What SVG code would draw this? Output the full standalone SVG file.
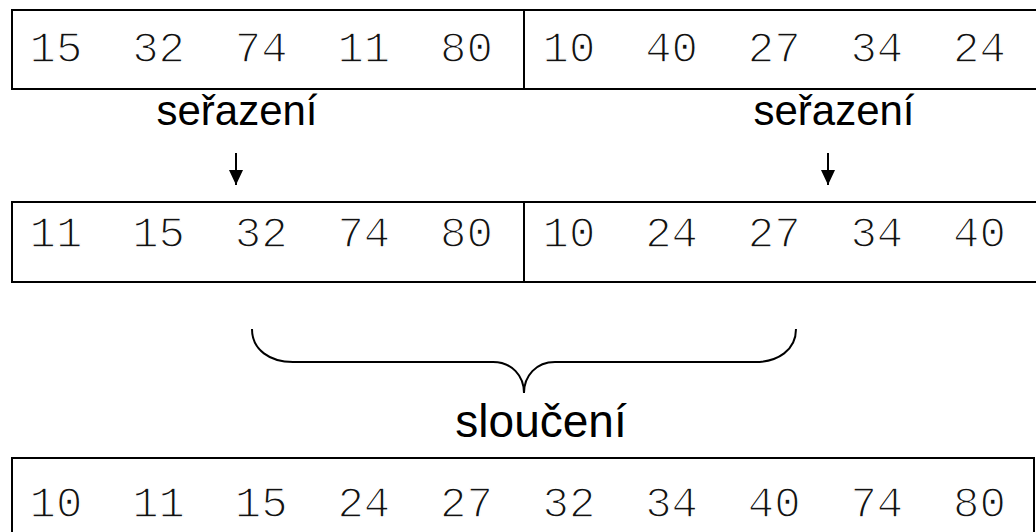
<svg xmlns="http://www.w3.org/2000/svg" width="1036" height="532" viewBox="0 0 1036 532">
<style>
.box{fill:#fff;stroke:#000;stroke-width:2}
.num{font-family:"Liberation Mono","Courier New",monospace;font-size:44px;fill:#111;stroke:#fff;stroke-width:1.4;text-anchor:middle}
.lbl{font-family:"Liberation Sans",Arial,sans-serif;font-size:42px;fill:#000;text-anchor:middle}
.con{fill:none;stroke:#000;stroke-width:2}
</style>
<defs>
<marker id="ah" markerWidth="16" markerHeight="14" refX="15" refY="7" orient="auto" markerUnits="userSpaceOnUse" viewBox="0 0 16 14">
<path d="M0,0 L15,7 L0,14 Z" fill="#000"/>
</marker>
</defs>
<rect width="1036" height="532" fill="#fff"/>
<g id="row1-left">
<rect class="box" x="12" y="10" width="512" height="79"/>
<text class="num" y="62"><tspan x="56">15</tspan><tspan x="158.6">32</tspan><tspan x="261.2">74</tspan><tspan x="363.8">11</tspan><tspan x="466.4">80</tspan></text>
</g>
<g id="row1-right">
<rect class="box" x="524" y="10" width="520" height="79"/>
<text class="num" y="62"><tspan x="569">10</tspan><tspan x="671.6">40</tspan><tspan x="774.2">27</tspan><tspan x="876.8">34</tspan><tspan x="979.4">24</tspan></text>
</g>
<g id="label-sort-left"><text class="lbl" x="237" y="125">seřazení</text></g>
<g id="label-sort-right"><text class="lbl" x="834" y="125">seřazení</text></g>
<g id="row2-left">
<rect class="box" x="12" y="202" width="512" height="80"/>
<text class="num" y="247"><tspan x="56">11</tspan><tspan x="158.6">15</tspan><tspan x="261.2">32</tspan><tspan x="363.8">74</tspan><tspan x="466.4">80</tspan></text>
</g>
<g id="row2-right">
<rect class="box" x="524" y="202" width="520" height="80"/>
<text class="num" y="247"><tspan x="569">10</tspan><tspan x="671.6">24</tspan><tspan x="774.2">27</tspan><tspan x="876.8">34</tspan><tspan x="979.4">40</tspan></text>
</g>
<g id="label-merge"><text class="lbl" x="541" y="437" style="font-size:46px">sloučení</text></g>
<g id="row3">
<rect class="box" x="12" y="458" width="1022" height="90"/>
<text class="num" y="517"><tspan x="56">10</tspan><tspan x="158.6">11</tspan><tspan x="261.2">15</tspan><tspan x="363.8">24</tspan><tspan x="466.4">27</tspan><tspan x="569">32</tspan><tspan x="671.6">34</tspan><tspan x="774.2">40</tspan><tspan x="876.8">74</tspan><tspan x="979.4">80</tspan></text>
</g>
<g id="connectors">
<line class="con" x1="236" y1="153" x2="236" y2="185" marker-end="url(#ah)"/>
<line class="con" x1="828" y1="153" x2="828" y2="185" marker-end="url(#ah)"/>
<path class="con" d="M252,329 C252,350 270,362 293,362 L493,362 C512,362 524,376 524,393 C524,376 536,362 555,362 L755,362 C778,362 796,350 796,329"/>
</g>
</svg>
